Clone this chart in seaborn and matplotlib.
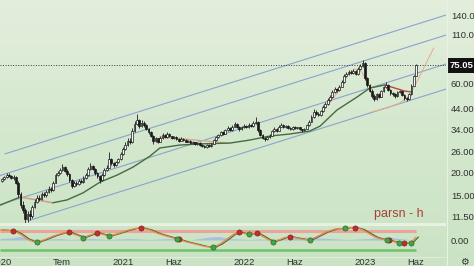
import numpy as np
import pandas as pd
import matplotlib
matplotlib.use("Agg")
import matplotlib.pyplot as plt
import matplotlib.dates as mdates
import matplotlib.transforms as mtransforms
from matplotlib.colors import LinearSegmentedColormap
from matplotlib.lines import Line2D
from matplotlib.patches import Rectangle
from matplotlib.ticker import NullLocator, NullFormatter, FixedLocator, FixedFormatter
import seaborn as sns

# ------------------------------------------------------------------ data
start_week = "2020-01-03"
first_open = 18.0
closes = [18.3, 18.8, 19.4, 19.1, 18.6, 18.9, 17.6, 15.2, 13.4, 12.6,
          11.2, 11.9, 11.6, 13.0, 13.8, 14.6, 14.4, 15.2, 15.0, 15.7,
          16.3, 16.0, 17.6, 19.4, 19.9, 20.5, 21.3, 20.4, 19.6, 18.2,
          16.9, 17.6, 17.3, 18.0, 17.7, 18.6, 19.3, 20.8, 21.6, 20.9,
          19.7, 19.0, 18.1, 19.4, 20.6, 21.2, 23.6, 22.3, 21.8, 22.6,
          23.5, 25.0, 26.8, 28.0, 29.6, 29.0, 33.5, 36.5, 38.2, 35.4,
          36.8, 35.9, 34.2, 32.8, 31.5, 29.6, 30.4, 29.2, 30.6, 31.8,
          30.9, 32.0, 31.2, 30.4, 31.0, 30.2, 29.6, 30.3, 29.8, 29.2,
          29.5, 28.6, 28.9, 28.2, 28.7, 28.0, 27.8, 27.4, 28.1, 27.6,
          28.4, 29.8, 31.0, 31.6, 32.8, 32.2, 33.6, 34.5, 33.8, 35.2,
          36.4, 35.1, 34.0, 34.8, 35.6, 34.9, 36.0, 35.4, 36.8, 37.2,
          33.6, 31.8, 30.6, 30.1, 30.8, 31.5, 33.2, 34.0, 33.4, 35.2,
          35.8, 35.0, 35.4, 34.6, 34.1, 35.0, 34.4, 34.8, 34.0, 33.6,
          34.2, 35.8, 37.4, 39.6, 42.4, 41.3, 40.6, 42.5, 44.8, 46.4,
          48.9, 50.6, 54.2, 56.0, 55.2, 57.6, 61.0, 65.8, 67.4, 69.5,
          68.2, 70.4, 67.6, 71.8, 74.5, 77.2, 64.0, 58.6, 55.0, 51.6,
          49.4, 52.8, 51.0, 54.6, 57.5, 59.2, 55.4, 53.0, 52.4, 51.2,
          53.8, 54.6, 52.0, 50.2, 49.6, 52.5, 58.5, 66.0, 75.05]
highs = [18.7, 19.2, 19.9, 19.7, 19.3, 19.3, 19.1, 17.9, 15.6, 14.0,
         12.9, 12.4, 12.5, 13.4, 14.3, 15.0, 15.1, 15.6, 15.7, 16.1,
         16.8, 16.7, 18.0, 19.8, 20.4, 21.2, 22.2, 21.6, 20.8, 19.8,
         18.4, 18.0, 17.9, 18.4, 18.3, 19.0, 19.8, 21.3, 22.5, 21.9,
         21.1, 20.0, 19.3, 19.8, 21.0, 21.8, 25.6, 23.9, 22.7, 23.0,
         24.0, 25.6, 27.5, 28.9, 30.4, 30.5, 34.4, 37.8, 41.2, 38.8,
         38.0, 37.6, 36.3, 34.6, 33.4, 31.8, 31.0, 30.7, 31.2, 32.6,
         32.2, 32.8, 32.4, 31.5, 31.5, 31.3, 30.5, 30.8, 30.6, 30.0,
         29.9, 29.7, 29.3, 29.1, 29.0, 28.9, 28.3, 28.0, 28.4, 28.3,
         28.8, 30.2, 31.5, 32.2, 33.4, 33.2, 34.2, 35.3, 34.9, 36.0,
         37.3, 36.8, 35.4, 35.3, 36.3, 35.9, 36.6, 36.4, 37.6, 39.8,
         37.6, 34.0, 32.2, 31.0, 31.3, 32.0, 33.8, 34.8, 34.4, 35.9,
         36.6, 36.2, 35.9, 35.7, 34.9, 35.5, 35.3, 35.2, 35.0, 34.3,
         34.6, 36.3, 38.0, 40.4, 43.5, 43.0, 41.9, 43.2, 45.7, 47.5,
         50.0, 51.8, 55.5, 57.2, 57.0, 58.8, 62.5, 67.2, 69.0, 71.2,
         70.6, 72.0, 71.0, 73.2, 76.8, 80.5, 78.0, 64.8, 59.4, 55.8,
         52.4, 53.6, 53.4, 55.4, 58.4, 61.0, 59.8, 56.0, 53.8, 53.0,
         54.6, 55.6, 55.0, 52.6, 51.0, 53.2, 59.4, 67.0, 76.2]
lows = [17.8, 18.1, 18.6, 18.8, 18.3, 18.2, 17.2, 14.8, 12.9, 12.1,
        10.6, 10.8, 11.1, 11.4, 12.8, 13.6, 14.0, 14.2, 14.7, 14.8,
        15.5, 15.6, 15.9, 17.4, 19.0, 19.6, 20.2, 20.0, 19.2, 17.8,
        16.4, 16.6, 16.9, 17.1, 17.4, 17.5, 18.4, 19.1, 20.5, 20.5,
        19.3, 18.6, 17.6, 17.9, 19.2, 20.3, 21.0, 21.9, 21.4, 21.5,
        22.3, 23.2, 24.7, 26.4, 27.7, 28.4, 28.8, 33.0, 35.8, 34.6,
        34.9, 35.2, 33.6, 32.2, 31.0, 28.5, 29.2, 28.8, 29.0, 30.3,
        30.5, 30.6, 30.8, 30.0, 30.1, 29.9, 29.2, 29.4, 29.5, 28.9,
        28.9, 28.3, 28.3, 27.9, 27.9, 27.6, 27.3, 27.0, 27.1, 27.2,
        27.3, 28.2, 29.5, 30.6, 31.3, 31.7, 32.0, 33.2, 33.3, 33.5,
        34.9, 34.6, 33.5, 33.7, 34.5, 34.4, 34.7, 34.9, 35.2, 36.2,
        33.0, 31.2, 30.0, 29.6, 29.8, 30.5, 31.3, 32.9, 32.9, 33.2,
        34.9, 34.6, 34.6, 34.2, 33.7, 33.9, 34.0, 34.0, 33.6, 33.1,
        33.2, 34.0, 35.5, 37.1, 39.3, 40.6, 39.9, 40.3, 42.2, 44.3,
        46.0, 48.4, 50.2, 53.6, 54.3, 54.8, 57.2, 60.5, 65.0, 66.8,
        67.2, 67.6, 66.4, 67.0, 71.0, 73.6, 62.5, 57.2, 53.8, 50.4,
        48.2, 48.9, 50.2, 50.6, 54.0, 56.8, 54.6, 52.2, 51.6, 50.4,
        50.8, 53.0, 51.2, 49.2, 48.6, 49.2, 52.0, 58.0, 65.5]

price_ticks = [140, 110, 80, 60, 44, 34, 26, 20, 15, 11.5]
price_tick_labels = ["140.0", "110.0", "80.00", "60.00", "44.00",
                     "34.00", "26.00", "20.00", "15.00", "11.50"]
last_price = 75.05
x_tick_dates = ["2020-01-01", "2020-07-01", "2021-01-01", "2021-06-01",
                "2022-01-01", "2022-06-01", "2023-01-01", "2023-06-01"]
x_tick_labels = ["2020", "Tem", "2021", "Haz", "2022", "Haz", "2023", "Haz"]
view_start, view_end = "2019-12-28", "2023-08-31"

# regression channel lines (start date, start price) -> (end date, end price)
channel_start_dates = ["2020-01-12", "2019-12-28", "2019-12-28", "2020-03-21"]
channel_start_vals = [25.1, 19.2, 13.4, 10.97]
channel_end_date = "2023-08-31"
channel_end_vals = [140.0, 109.3, 76.4, 56.0]

# moving averages
ma_green_a_dates = ["2019-12-28", "2020-02-26"]
ma_green_a_vals = [13.3, 14.7]
ma_salmon_dates = ["2020-02-26", "2020-04-17", "2020-06-04"]
ma_salmon_vals = [14.7, 14.2, 13.7]
ma_green_b_dates = ["2020-06-04", "2020-07-17", "2020-09-03", "2020-10-24",
                    "2020-12-14", "2021-01-31", "2021-03-23", "2021-04-22",
                    "2021-06-21", "2021-08-21", "2021-11-19", "2022-01-18",
                    "2022-03-19", "2022-05-18", "2022-07-17", "2022-08-17",
                    "2022-10-07", "2022-12-06", "2023-01-14", "2023-02-28"]
ma_green_b_vals = [13.7, 14.2, 15.5, 17.7, 19.3, 21.3, 24.4, 27.0, 28.0, 28.4,
                   28.7, 29.8, 31.3, 32.1, 33.3, 35.4, 43.2, 50.7, 56.7, 58.9]
ma_red_dates = ["2023-02-28", "2023-03-30", "2023-04-29", "2023-05-20"]
ma_red_vals = [58.9, 56.7, 54.6, 54.0]
ma_tan_dates = ["2021-04-22", "2021-06-06", "2021-08-06", "2021-10-05", "2021-11-13"]
ma_tan_vals = [30.9, 30.5, 29.8, 29.1, 28.7]
thin_a_dates = ["2022-09-10", "2022-10-10", "2022-11-06", "2022-11-30",
                "2022-12-21", "2023-01-08", "2023-01-23"]
thin_a_vals = [46.0, 54.0, 66.6, 71.8, 69.1, 59.6, 54.0]
thin_b_dates = ["2023-01-20", "2023-03-06", "2023-04-14", "2023-05-14",
                "2023-06-07", "2023-07-01", "2023-07-25"]
thin_b_vals = [42.2, 44.3, 47.1, 52.0, 62.6, 76.4, 93.1]

# oscillator pane
osc_dates = ["2019-12-28", "2020-02-05", "2020-02-26", "2020-03-18", "2020-04-05",
             "2020-04-17", "2020-05-11", "2020-06-10", "2020-07-05", "2020-07-23",
             "2020-08-13", "2020-09-03", "2020-09-24", "2020-10-15", "2020-11-02",
             "2020-11-20", "2020-12-17", "2021-01-13", "2021-02-06", "2021-02-24",
             "2021-03-23", "2021-04-16", "2021-05-16", "2021-06-12", "2021-07-12",
             "2021-08-12", "2021-09-05", "2021-09-29", "2021-10-20", "2021-11-10",
             "2021-11-28", "2021-12-16", "2021-12-31", "2022-01-15", "2022-01-27",
             "2022-02-08", "2022-02-26", "2022-03-13", "2022-03-28", "2022-04-18",
             "2022-05-03", "2022-05-18", "2022-06-08", "2022-06-29", "2022-07-17",
             "2022-08-11", "2022-09-04", "2022-10-01", "2022-10-31", "2022-11-15",
             "2022-11-30", "2022-12-21", "2023-01-08", "2023-01-29", "2023-02-16",
             "2023-03-06", "2023-03-24", "2023-04-11", "2023-04-26", "2023-05-17",
             "2023-06-02"]
osc_vals = [10, 9.3, 6, 1, -1.5, -2.3, 0.5, 4.5, 7, 7.7,
            5, 2.3, 5, 7.3, 5.5, 4, 6.5, 9.5, 11.5, 12.3,
            10, 6.5, 3.5, 1.0, -2, -4.5, -6.5, -7.3, -4, 1,
            5.5, 8, 6.5, 5.7, 6.3, 6.7, 3.5, 0.5, -1.7, 0.5,
            2.5, 3.3, 2, 0.5, 0, 4, 8, 11, 11.7, 12.5,
            12.3, 10.5, 7, 3, 1, 0, -1.5, -2.7, -2.7, -2.7, 3]
signal_lag_days = 7
red_dot_dates = ["2020-02-05", "2020-07-23", "2020-10-15", "2021-02-24", "2021-06-18",
                 "2021-12-16", "2022-02-08", "2022-05-18", "2022-11-30", "2023-03-12",
                 "2023-04-26"]
red_dot_vals = [9.3, 7.7, 7.3, 12.3, 1.0, 8, 6.7, 3.3, 12.3, 0, -2.7]
green_dot_dates = ["2020-04-17", "2020-09-03", "2020-11-20", "2021-06-12", "2021-09-29",
                   "2022-01-15", "2022-03-28", "2022-07-17", "2022-10-31", "2023-03-06",
                   "2023-04-11", "2023-05-17"]
green_dot_vals = [-2.3, 2.3, 4, 1.0, -7.3, 5.7, -1.7, 0, 11.7, 0, -2.7, -2.7]
band_upper, band_lower = 9.0, -10.0
blue_start, blue_step = "2019-12-28", "30D"
blue_vals = [1.5, 2, 3.5, 1.5, 0.5, 1, 1.5, 0.5, 1, 1.5,
             1, 0.5, 1, 1.5, 1, 0.5, 1, 1.5, 0.5, 0,
             1.5, 3, 3.5, 1.5, 1, 0.5, 1, 0.5, 1, 1.5,
             2.5, 3, 2, 1.5, 1, 0.5, 1, 1.5, 2.5, 3, 1.5, 0.5]


def dn(seq):
    return mdates.date2num(pd.to_datetime(seq).to_pydatetime())


# ------------------------------------------------------------------ style
sns.set_theme(style="white")
plt.rcParams["font.family"] = ["Liberation Sans Narrow", "Liberation Sans", "DejaVu Sans"]

W, H = 474, 266
fig = plt.figure(figsize=(W / 100, H / 100), dpi=100)
fig.patch.set_facecolor("#d8e9d2")

bg = fig.add_axes([0, 0, 1, 1], zorder=-10)
grad = np.linspace(0, 1, 256).reshape(-1, 1)
cmap = LinearSegmentedColormap.from_list("bg", ["#e3eedd", "#d4e8ce", "#cbe3c4"])
bg.imshow(grad, aspect="auto", cmap=cmap, extent=[0, 1, 0, 1], origin="upper")
bg.set_axis_off()

plot_w = 446 / W
ax = fig.add_axes([0, 1 - 223 / H, plot_w, 223 / H])
ax2 = fig.add_axes([0, 1 - 256 / H, plot_w, 32 / H])
for a in (ax, ax2):
    a.set_facecolor("none")
    for s in a.spines.values():
        s.set_visible(False)

x0, x1 = dn([view_start, view_end])

# ------------------------------------------------------------------ price pane
ax.set_yscale("log")
ax.set_ylim(10.67, 168.6)
ax.set_xlim(x0, x1)

cd = dn(pd.date_range(start_week, periods=len(closes), freq="7D"))
c = np.array(closes)
o = np.array([first_open] + closes[:-1])
hi = np.array(highs)
lo = np.array(lows)
up = c >= o

# channel lines
for sd, sv, ev in zip(channel_start_dates, channel_start_vals, channel_end_vals):
    sns.lineplot(x=dn([sd, channel_end_date]), y=[sv, ev], ax=ax,
                 color="#8aa4cc", linewidth=0.8, legend=False)

ax.axhline(last_price, color="#3c3c3c", linewidth=0.7, linestyle=(0, (1, 1.6)))

# moving averages
sns.lineplot(x=dn(ma_tan_dates), y=ma_tan_vals, ax=ax, color="#d9a98f", linewidth=1.0, legend=False)
sns.lineplot(x=dn(thin_a_dates), y=thin_a_vals, ax=ax, color="#e8ab84", linewidth=0.7, legend=False)
sns.lineplot(x=dn(thin_b_dates), y=thin_b_vals, ax=ax, color="#e8ab84", linewidth=0.7, legend=False)
sns.lineplot(x=dn(ma_green_a_dates), y=ma_green_a_vals, ax=ax, color="#456b40", linewidth=1.0, legend=False)
sns.lineplot(x=dn(ma_salmon_dates), y=ma_salmon_vals, ax=ax, color="#d39a84", linewidth=1.1, legend=False)
sns.lineplot(x=dn(ma_green_b_dates), y=ma_green_b_vals, ax=ax, color="#456b40", linewidth=1.0, legend=False)
sns.lineplot(x=dn(ma_red_dates), y=ma_red_vals, ax=ax, color="#b8473d", linewidth=1.0, legend=False)

# candles
ax.vlines(cd, lo, hi, color="#1a1a1a", linewidth=0.6, zorder=4)
ax.bar(cd[up], (c - o)[up], bottom=o[up], width=5.2, color="#f7f7f7",
       edgecolor="#1a1a1a", linewidth=0.5, zorder=5)
ax.bar(cd[~up], (o - c)[~up], bottom=c[~up], width=5.2, color="#1a1a1a",
       edgecolor="#1a1a1a", linewidth=0.5, zorder=5)

ax.yaxis.tick_right()
ax.yaxis.set_major_locator(FixedLocator(price_ticks))
ax.yaxis.set_major_formatter(FixedFormatter(price_tick_labels))
ax.yaxis.set_minor_locator(NullLocator())
ax.yaxis.set_minor_formatter(NullFormatter())
ax.tick_params(axis="y", length=0, pad=3.5, labelsize=6.8, colors="#2f2f2f")
ax.set_xticks([])
ax.set_xlabel("")
ax.set_ylabel("")

lt = mtransforms.blended_transform_factory(ax.transAxes, ax.transData)
ax.text(1 + 3.5 / 446, last_price, "75.05", transform=lt, ha="left", va="center",
        fontsize=6.8, fontweight="bold", color="white", clip_on=False, zorder=10,
        bbox=dict(boxstyle="square,pad=0.28", fc="#121212", ec="none"))

# ------------------------------------------------------------------ oscillator pane
ax2.set_xlim(x0, x1)
ax2.set_ylim(-16, 16)
last_d = cd[-1]
ax2.hlines(band_upper, x0, last_d, color="#ee9c98", linewidth=2.2, alpha=0.9)
ax2.hlines(band_lower, x0, last_d, color="#6cc46a", linewidth=1.8)
bx = dn(pd.date_range(blue_start, periods=len(blue_vals), freq=blue_step))
ax2.fill_between(bx, 0, blue_vals, color="#a6b9e2", alpha=0.85, linewidth=0)
od = dn(osc_dates)
sns.lineplot(x=od + signal_lag_days, y=osc_vals, ax=ax2, color="#5d6a2e", linewidth=0.9, legend=False)
sns.lineplot(x=od, y=osc_vals, ax=ax2, color="#e58b4c", linewidth=0.9, legend=False)
sns.scatterplot(x=dn(red_dot_dates), y=red_dot_vals, ax=ax2, color="#c0302b", s=14,
                edgecolor="#6b1a16", linewidth=0.4, zorder=6, legend=False)
sns.scatterplot(x=dn(green_dot_dates), y=green_dot_vals, ax=ax2, color="#45a545", s=14,
                edgecolor="#1d5a1d", linewidth=0.4, zorder=6, legend=False)

ax2.yaxis.tick_right()
ax2.set_yticks([0])
ax2.set_yticklabels(["0.00"])
ax2.tick_params(axis="y", length=0, pad=3.5, labelsize=6.8, colors="#2f2f2f")
ax2.set_xticks(dn(x_tick_dates))
ax2.set_xticklabels(x_tick_labels)
ax2.tick_params(axis="x", length=0, pad=1.2, labelsize=6.8, colors="#2f2f2f")
ax2.set_xlabel("")
ax2.set_ylabel("")

# ------------------------------------------------------------------ chrome
fig.add_artist(Rectangle((0, 1 - 226 / H), plot_w, 3 / H, transform=fig.transFigure,
                         facecolor="#e7f0e3", edgecolor="none", zorder=-5))
fig.add_artist(Line2D([446.5 / W, 446.5 / W], [0, 1], transform=fig.transFigure,
                      color="#e8f1e4", linewidth=0.8))
fig.add_artist(Line2D([0, plot_w], [1 - 256.5 / H] * 2, transform=fig.transFigure,
                      color="#e2ede0", linewidth=0.6))
fig.text(399 / W, 1 - 214 / H, "parsn - h", ha="center", va="center", fontsize=9,
         color="#a8413b", family=["Liberation Sans", "DejaVu Sans"])
fig.text(464 / W, 1 - 262 / H, "\u2699", ha="center", va="center", fontsize=7,
         color="#333333", family=["DejaVu Sans"])

fig.savefig("out.png", dpi=100)
